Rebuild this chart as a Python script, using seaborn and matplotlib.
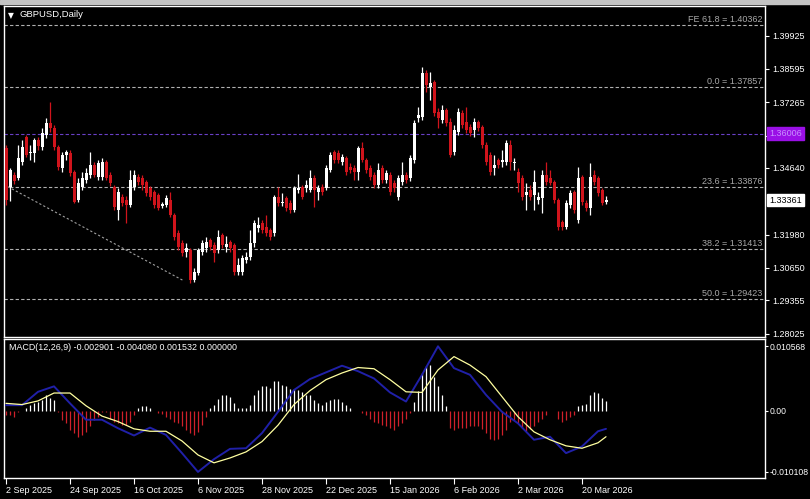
import matplotlib
matplotlib.use('Agg')
import matplotlib.pyplot as plt
from matplotlib.patches import Rectangle
import seaborn as sns

# GBPUSD daily candles, MT4 style chart with MACD panel
sns.set_theme(style='dark', rc={'axes.facecolor': 'black', 'figure.facecolor': 'black',
                                'axes.edgecolor': 'white', 'axes.grid': False})
plt.rcParams['font.family'] = ['Liberation Sans', 'DejaVu Sans']

opens = [1.3545, 1.3389, 1.3437, 1.3425, 1.3489, 1.3589, 1.3525, 1.3525, 1.3577, 1.3549,
         1.3597, 1.3645, 1.3625, 1.3549, 1.3465, 1.3517, 1.3525, 1.3449, 1.3337, 1.3389,
         1.3417, 1.3437, 1.3477, 1.3429, 1.3429, 1.3489, 1.3437, 1.3389, 1.3297, 1.3349,
         1.3337, 1.3317, 1.3389, 1.3429, 1.3425, 1.3409, 1.3385, 1.3369, 1.3357, 1.3313,
         1.3317, 1.3337, 1.3277, 1.3205, 1.3165, 1.3129, 1.3137, 1.3017, 1.3045, 1.3129,
         1.3145, 1.3177, 1.3157, 1.3137, 1.3197, 1.3149, 1.3169, 1.3157, 1.3049, 1.3049,
         1.3097, 1.3109, 1.3165, 1.3225, 1.3245, 1.3229, 1.3217, 1.3205, 1.3349, 1.3325,
         1.3345, 1.3325, 1.3297, 1.3377, 1.3389, 1.3385, 1.3377, 1.3425, 1.3369, 1.3389,
         1.3385, 1.3457, 1.3529, 1.3525, 1.3489, 1.3505, 1.3469, 1.3465, 1.3449, 1.3545,
         1.3497, 1.3465, 1.3437, 1.3397, 1.3465, 1.3417, 1.3437, 1.3405, 1.3349, 1.3409,
         1.3437, 1.3425, 1.3497, 1.3665, 1.3669, 1.3845, 1.3789, 1.3809, 1.3689, 1.3657,
         1.3697, 1.3649, 1.3529, 1.3609, 1.3685, 1.3649, 1.3629, 1.3617, 1.3649, 1.3629,
         1.3557, 1.3517, 1.3465, 1.3497, 1.3489, 1.3489, 1.3557, 1.3485, 1.3449, 1.3425,
         1.3357, 1.3377, 1.3357, 1.3337, 1.3345, 1.3437, 1.3425, 1.3409, 1.3337, 1.3249,
         1.3229, 1.3317, 1.3369, 1.3257, 1.3429, 1.3325, 1.3305, 1.3437, 1.3425, 1.3377,
         1.3329]
highs = [1.3557, 1.3465, 1.3449, 1.3557, 1.3577, 1.3597, 1.3557, 1.3585, 1.3589, 1.3625,
         1.3665, 1.3729, 1.3637, 1.3557, 1.3529, 1.3537, 1.3537, 1.3457, 1.3425, 1.3449,
         1.3465, 1.3529, 1.3489, 1.3497, 1.3505, 1.3497, 1.3449, 1.3397, 1.3385, 1.3361,
         1.3353, 1.3457, 1.3457, 1.3441, 1.3437, 1.3417, 1.3393, 1.3377, 1.3365, 1.3329,
         1.3357, 1.3369, 1.3285, 1.3217, 1.3177, 1.3165, 1.3145, 1.3065, 1.3145, 1.3177,
         1.3189, 1.3185, 1.3169, 1.3217, 1.3205, 1.3193, 1.3177, 1.3165, 1.3105, 1.3117,
         1.3129, 1.3217, 1.3257, 1.3269, 1.3257, 1.3277, 1.3225, 1.3357, 1.3389, 1.3365,
         1.3353, 1.3337, 1.3393, 1.3441, 1.3397, 1.3417, 1.3457, 1.3437, 1.3397, 1.3401,
         1.3477, 1.3529, 1.3537, 1.3537, 1.3521, 1.3513, 1.3485, 1.3477, 1.3553, 1.3569,
         1.3505, 1.3477, 1.3449, 1.3485, 1.3477, 1.3457, 1.3449, 1.3417, 1.3437, 1.3489,
         1.3449, 1.3517, 1.3657, 1.3709, 1.3869, 1.3857, 1.3849, 1.3817, 1.3705, 1.3717,
         1.3705, 1.3665, 1.3637, 1.3705, 1.3697, 1.3709, 1.3641, 1.3665, 1.3657, 1.3637,
         1.3569, 1.3529, 1.3517, 1.3505, 1.3537, 1.3577, 1.3577, 1.3505, 1.3465, 1.3437,
         1.3405, 1.3397, 1.3457, 1.3369, 1.3457, 1.3489, 1.3457, 1.3417, 1.3345, 1.3257,
         1.3337, 1.3377, 1.3377, 1.3469, 1.3437, 1.3337, 1.3485, 1.3457, 1.3433, 1.3385,
         1.3353]
lows = [1.3317, 1.3333, 1.3401, 1.3417, 1.3477, 1.3509, 1.3497, 1.3489, 1.3537, 1.3537,
        1.3585, 1.3609, 1.3537, 1.3457, 1.3449, 1.3497, 1.3433, 1.3325, 1.3329, 1.3377,
        1.3405, 1.3425, 1.3429, 1.3417, 1.3417, 1.3417, 1.3393, 1.3297, 1.3257, 1.3313,
        1.3245, 1.3309, 1.3377, 1.3397, 1.3377, 1.3353, 1.3337, 1.3305, 1.3297, 1.3305,
        1.3309, 1.3269, 1.3177, 1.3137, 1.3113, 1.3109, 1.3005, 1.3009, 1.3037, 1.3117,
        1.3129, 1.3137, 1.3089, 1.3125, 1.3145, 1.3129, 1.3129, 1.3037, 1.3037, 1.3037,
        1.3085, 1.3097, 1.3149, 1.3209, 1.3205, 1.3193, 1.3177, 1.3193, 1.3313, 1.3313,
        1.3293, 1.3285, 1.3289, 1.3365, 1.3341, 1.3369, 1.3369, 1.3309, 1.3337, 1.3357,
        1.3377, 1.3449, 1.3485, 1.3485, 1.3477, 1.3437, 1.3445, 1.3417, 1.3417, 1.3489,
        1.3445, 1.3417, 1.3385, 1.3385, 1.3405, 1.3405, 1.3357, 1.3369, 1.3337, 1.3397,
        1.3405, 1.3413, 1.3485, 1.3649, 1.3657, 1.3769, 1.3737, 1.3673, 1.3625, 1.3645,
        1.3633, 1.3509, 1.3517, 1.3597, 1.3625, 1.3605, 1.3593, 1.3589, 1.3613, 1.3545,
        1.3477, 1.3437, 1.3437, 1.3465, 1.3469, 1.3477, 1.3457, 1.3457, 1.3369, 1.3337,
        1.3297, 1.3337, 1.3297, 1.3321, 1.3285, 1.3397, 1.3397, 1.3325, 1.3217, 1.3217,
        1.3221, 1.3305, 1.3285, 1.3245, 1.3317, 1.3293, 1.3277, 1.3397, 1.3353, 1.3317,
        1.3321]
closes = [1.3337, 1.3457, 1.3413, 1.3505, 1.3549, 1.3517, 1.3529, 1.3577, 1.3553, 1.3605,
          1.3645, 1.3625, 1.3549, 1.3469, 1.3517, 1.3529, 1.3445, 1.3329, 1.3405, 1.3425,
          1.3445, 1.3477, 1.3437, 1.3485, 1.3489, 1.3425, 1.3405, 1.3309, 1.3369, 1.3325,
          1.3317, 1.3417, 1.3437, 1.3409, 1.3397, 1.3365, 1.3349, 1.3317, 1.3305, 1.3321,
          1.3345, 1.3277, 1.3189, 1.3149, 1.3125, 1.3145, 1.3017, 1.3049, 1.3137, 1.3165,
          1.3169, 1.3149, 1.3125, 1.3189, 1.3157, 1.3161, 1.3145, 1.3049, 1.3077, 1.3105,
          1.3109, 1.3165, 1.3245, 1.3237, 1.3217, 1.3205, 1.3189, 1.3349, 1.3325, 1.3329,
          1.3305, 1.3297, 1.3385, 1.3385, 1.3349, 1.3397, 1.3425, 1.3377, 1.3385, 1.3369,
          1.3465, 1.3517, 1.3497, 1.3497, 1.3509, 1.3449, 1.3457, 1.3449, 1.3545, 1.3497,
          1.3457, 1.3429, 1.3397, 1.3457, 1.3417, 1.3445, 1.3369, 1.3385, 1.3425, 1.3437,
          1.3417, 1.3505, 1.3645, 1.3677, 1.3845, 1.3797, 1.3805, 1.3685, 1.3665, 1.3697,
          1.3645, 1.3517, 1.3617, 1.3689, 1.3637, 1.3617, 1.3605, 1.3649, 1.3625, 1.3557,
          1.3489, 1.3449, 1.3477, 1.3477, 1.3497, 1.3565, 1.3489, 1.3489, 1.3405, 1.3349,
          1.3369, 1.3349, 1.3409, 1.3349, 1.3437, 1.3409, 1.3405, 1.3337, 1.3229, 1.3229,
          1.3325, 1.3365, 1.3297, 1.3425, 1.3329, 1.3305, 1.3429, 1.3409, 1.3365, 1.3325,
          1.3336]

macd_hist = [-0.0007, -0.0008, -0.0011, -0.0003, 0.0000, 0.0004, 0.0009, 0.0012, 0.0015, 0.0018,
             0.0026, 0.0020, 0.0017, -0.0003, -0.0015, -0.0021, -0.0032, -0.0037, -0.0043, -0.0040,
             -0.0035, -0.0026, -0.0015, -0.0010, -0.0003, -0.0002, -0.0013, -0.0018, -0.0021, -0.0024,
             -0.0024, -0.0018, -0.0007, 0.0004, 0.0008, 0.0008, 0.0004, 0.0000, -0.0004, -0.0006,
             -0.0010, -0.0013, -0.0018, -0.0021, -0.0026, -0.0032, -0.0037, -0.0040, -0.0035, -0.0024,
             -0.0010, 0.0004, 0.0009, 0.0019, 0.0025, 0.0025, 0.0023, 0.0012, 0.0005, 0.0005,
             0.0005, 0.0010, 0.0025, 0.0034, 0.0040, 0.0040, 0.0037, 0.0048, 0.0048, 0.0042,
             0.0040, 0.0035, 0.0035, 0.0034, 0.0030, 0.0025, 0.0025, 0.0018, 0.0012, 0.0009,
             0.0014, 0.0018, 0.0019, 0.0019, 0.0015, 0.0010, 0.0004, 0.0000, 0.0000, -0.0004,
             -0.0007, -0.0013, -0.0018, -0.0021, -0.0024, -0.0025, -0.0029, -0.0032, -0.0026, -0.0021,
             -0.0013, -0.0004, 0.0015, 0.0033, 0.0062, 0.0073, 0.0075, 0.0056, 0.0040, 0.0026,
             0.0007, -0.0029, -0.0032, -0.0029, -0.0028, -0.0028, -0.0026, -0.0025, -0.0026, -0.0030,
             -0.0037, -0.0046, -0.0048, -0.0046, -0.0040, -0.0032, -0.0018, -0.0015, -0.0021, -0.0028,
             -0.0033, -0.0030, -0.0026, -0.0018, -0.0013, -0.0007, 0.0000, 0.0000, -0.0013, -0.0019,
             -0.0015, -0.0010, -0.0007, 0.0007, 0.0010, 0.0011, 0.0025, 0.0030, 0.0029, 0.0020,
             0.0016]

line_bars = [0, 4, 8, 12, 16, 20, 24, 28, 32, 36, 40, 44, 48, 52, 56, 60, 64, 68, 72, 76,
             80, 84, 88, 92, 96, 100, 104, 108, 112, 116, 120, 124, 128, 132, 136, 140, 144, 148, 150]
macd_main = [0.0009, 0.0009, 0.0031, 0.0040, 0.0012, -0.0015, -0.0015, -0.0029, -0.0041, -0.0028,
             -0.0040, -0.0070, -0.0101, -0.0080, -0.0063, -0.0062, -0.0037, -0.0002, 0.0034, 0.0052,
             0.0063, 0.0074, 0.0065, 0.0053, 0.0030, 0.0015, 0.0059, 0.0106, 0.0070, 0.0059,
             0.0026, -0.0002, -0.0021, -0.0048, -0.0043, -0.0070, -0.0059, -0.0034, -0.0030]
macd_signal = [0.0012, 0.0010, 0.0016, 0.0029, 0.0029, 0.0008, -0.0009, -0.0018, -0.0030, -0.0034,
               -0.0034, -0.0050, -0.0073, -0.0086, -0.0078, -0.0068, -0.0051, -0.0024, 0.0010, 0.0033,
               0.0051, 0.0062, 0.0071, 0.0069, 0.0051, 0.0031, 0.0030, 0.0067, 0.0089, 0.0075,
               0.0056, 0.0023, -0.0010, -0.0035, -0.0048, -0.0058, -0.0062, -0.0053, -0.0043]

fib_levels = [1.40362, 1.37857, 1.33876, 1.31413, 1.29423]
fib_labels = ['FE 61.8 = 1.40362', '0.0 = 1.37857', '23.6 = 1.33876', '38.2 = 1.31413', '50.0 = 1.29423']
fib_anchor_bars = [0.5, 44.5]
fib_anchor_prices = [1.3389, 1.3013]
hline_price = 1.3601
hline_label = '1.36006'
last_price = '1.33361'

price_ticks = [1.39925, 1.38595, 1.37265, 1.35935, 1.34640, 1.31980, 1.30650, 1.29355, 1.28025]
macd_ticks = [0.010568, 0.0, -0.010108]
macd_tick_labels = ['0.010568', '0.00', '-0.010108']
date_bars = [0, 16, 32, 48, 64, 80, 96, 112, 128, 144]
date_labels = ['2 Sep 2025', '24 Sep 2025', '16 Oct 2025', '6 Nov 2025', '28 Nov 2025',
               '22 Dec 2025', '15 Jan 2026', '6 Feb 2026', '2 Mar 2026', '20 Mar 2026']

RED = '#d0141c'
WHITE = '#ffffff'
GRAY = '#b0b0b0'
FS = 6.5

fig = plt.figure(figsize=(8.1, 4.99), dpi=100)
fig.patch.set_facecolor('black')
fig.patches.append(Rectangle((0, 1 - 4 / 499), 1, 4 / 499, transform=fig.transFigure,
                             color='#c4c4c4', zorder=0))

ax = fig.add_axes([4 / 810, 1 - 337 / 499, 761 / 810, 331 / 499])
ax2 = fig.add_axes([4 / 810, 1 - 478 / 499, 761 / 810, 139 / 499])
for a in (ax, ax2):
    a.set_facecolor('black')
    for s in a.spines.values():
        s.set_color('white')
        s.set_linewidth(1.0)
    a.set_xlim(-0.5, 189.75)

# ---- candles
n = len(closes)
bars = list(range(n))
up = [c >= o for o, c in zip(opens, closes)]
cols = [WHITE if u else RED for u in up]
ax.vlines(bars, lows, highs, colors=cols, linewidth=0.9, zorder=3)
body_bottom = [min(o, c) for o, c in zip(opens, closes)]
body_h = [max(abs(c - o), 0.00012) for o, c in zip(opens, closes)]
ax.bar(bars, body_h, bottom=body_bottom, width=0.75, color=cols, linewidth=0, zorder=4)

ax.set_ylim(1.2789, 1.4111)

# fibo levels
for lvl, lab in zip(fib_levels, fib_labels):
    ax.axhline(lvl, color=GRAY, lw=0.8, dashes=(3, 2), zorder=2)
    ax.text(0.9965, lvl + 0.0004, lab, transform=ax.get_yaxis_transform(), ha='right',
            va='bottom', color='#a8a8a8', fontsize=FS)
ax.plot(fib_anchor_bars, fib_anchor_prices, color='#a0a0a0', lw=0.8, dashes=(2, 2), zorder=2)
ax.axhline(hline_price, color='#6a40c8', lw=0.8, dashes=(3, 2), zorder=2)

ax.set_xticks([])
ax.yaxis.tick_right()
ax.set_yticks(price_ticks)
ax.set_yticklabels([f'{t:.5f}' for t in price_ticks])
ax.tick_params(axis='y', colors='white', labelcolor='white', length=3, width=0.8,
               labelsize=FS, pad=2, right=True, left=False)

ax.annotate(hline_label, xy=(1.0, hline_price), xycoords=('axes fraction', 'data'),
            xytext=(3, 0), textcoords='offset points', ha='left', va='center',
            fontsize=FS, color='#c890ff', zorder=10, annotation_clip=False,
            bbox=dict(boxstyle='square,pad=0.2', fc='#9a10e6', ec='#9a10e6'))
ax.annotate(last_price, xy=(1.0, float(last_price)), xycoords=('axes fraction', 'data'),
            xytext=(3, 0), textcoords='offset points', ha='left', va='center',
            fontsize=FS, color='black', zorder=10, annotation_clip=False,
            bbox=dict(boxstyle='square,pad=0.2', fc='white', ec='white'))

ax.text(0.005, 0.985, '\u25bc', transform=ax.transAxes, color='white', fontsize=5.5,
        ha='left', va='top', family=['DejaVu Sans'])
ax.text(0.021, 0.988, 'GBPUSD,Daily', transform=ax.transAxes, color='white', fontsize=6.8,
        ha='left', va='top')

# ---- MACD
hist_cols = [WHITE if h >= 0 else '#d0202a' for h in macd_hist]
ax2.vlines(bars, 0, macd_hist, colors=hist_cols, linewidth=0.9, zorder=3)
sns.lineplot(x=line_bars, y=macd_main, ax=ax2, color='#2020a8', lw=1.4, zorder=4)
sns.lineplot(x=line_bars, y=macd_signal, ax=ax2, color='#ffffa0', lw=0.9, zorder=5)
ax2.set_ylim(-0.0111, 0.0118)
ax2.yaxis.tick_right()
ax2.set_yticks(macd_ticks)
ax2.set_yticklabels(macd_tick_labels)
ax2.tick_params(axis='y', colors='white', labelcolor='white', length=2, width=0.8,
                labelsize=6.2, pad=1, right=True, left=False)
ax2.set_xticks(date_bars)
ax2.set_xticklabels(date_labels, ha='left')
ax2.tick_params(axis='x', colors='white', labelcolor='white', length=4, width=0.8,
                labelsize=FS, pad=2, bottom=True)
ax2.set_xlabel('')
ax2.set_ylabel('')
ax2.text(0.006, 0.97, 'MACD(12,26,9) -0.002901 -0.004080 0.001532 0.000000',
         transform=ax2.transAxes, color='white', fontsize=6.4, ha='left', va='top')

fig.savefig('out.png', dpi=100, facecolor='black')
